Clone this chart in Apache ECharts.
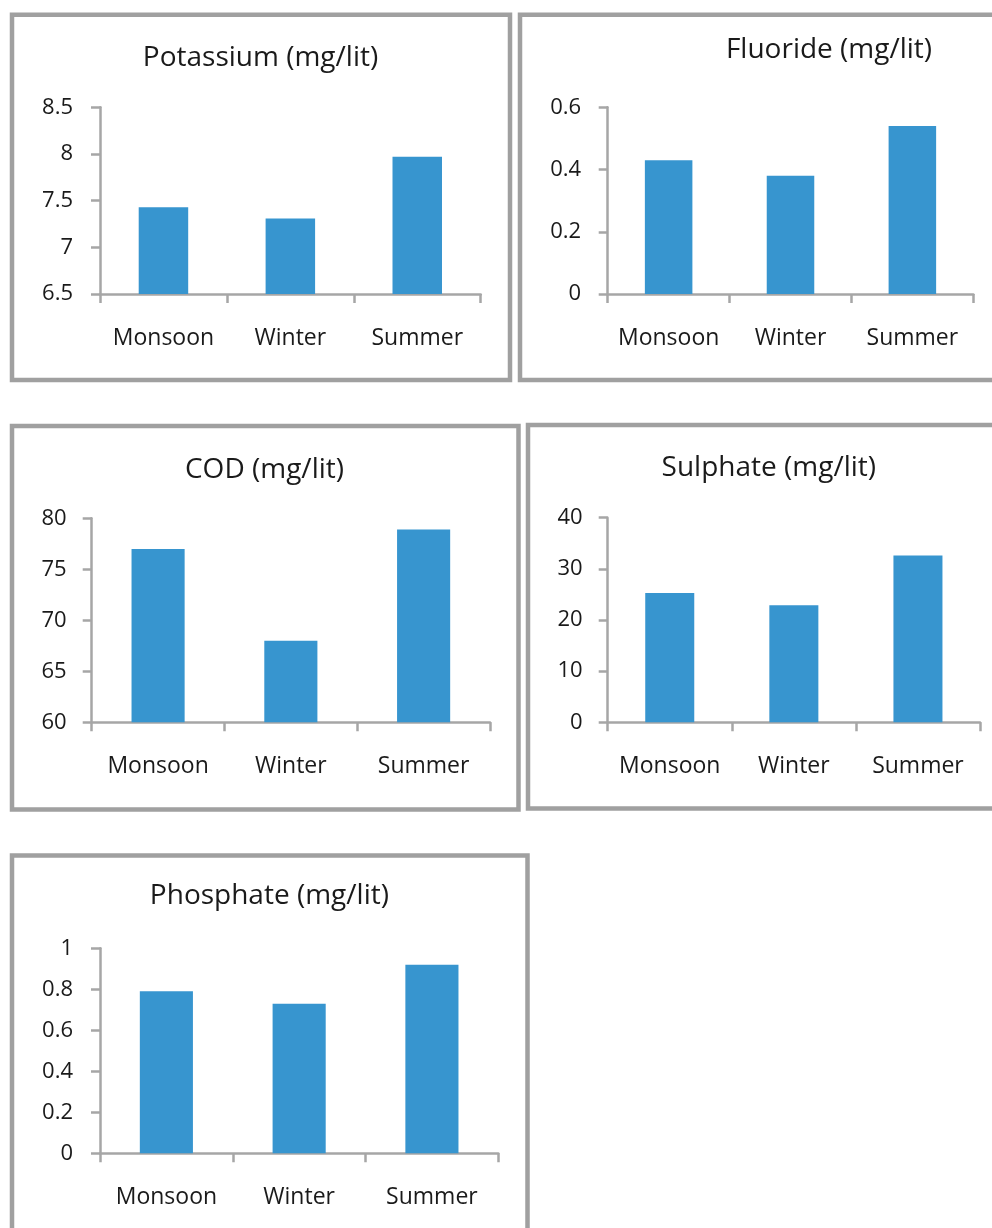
<!DOCTYPE html>
<html>
<head>
<meta charset="utf-8">
<script src="https://cdn.jsdelivr.net/npm/echarts@6/dist/echarts.min.js"></script>
<style>
  html, body { margin: 0; padding: 0; background: #ffffff; }
  #chart { width: 992px; height: 1228px; }
</style>
</head>
<body>
<div id="chart"></div>
<script>
// ---- data ----
const categories = ['Monsoon', 'Winter', 'Summer'];

const potassiumTitle = 'Potassium (mg/lit)';
const potassiumValues = [7.43, 7.31, 7.97];
const potassiumTicks = [6.5, 7, 7.5, 8, 8.5];

const fluorideTitle = 'Fluoride (mg/lit)';
const fluorideValues = [0.43, 0.38, 0.54];
const fluorideTicks = [0, 0.2, 0.4, 0.6];

const codTitle = 'COD (mg/lit)';
const codValues = [77.0, 68.0, 78.9];
const codTicks = [60, 65, 70, 75, 80];

const sulphateTitle = 'Sulphate (mg/lit)';
const sulphateValues = [25.3, 22.9, 32.6];
const sulphateTicks = [0, 10, 20, 30, 40];

const phosphateTitle = 'Phosphate (mg/lit)';
const phosphateValues = [0.79, 0.73, 0.92];
const phosphateTicks = [0, 0.2, 0.4, 0.6, 0.8, 1];

// ---- layout / style ----
const FONT = 'Open Sans';
const TEXT = '#1a1a1a';
const AXIS = '#a6a6a6';
const BAR = '#3795cf';
const BORDER = '#a0a0a0';

const panels = [
  { title: potassiumTitle, values: potassiumValues, ticks: potassiumTicks,
    grid: { left: 100, top: 107.3, width: 380.7, height: 186.7 }, yMargin: 27, barWidth: '39%',
    titlePos: [260.5, 58], border: [12, 14.8, 498, 365.2] },
  { title: fluorideTitle, values: fluorideValues, ticks: fluorideTicks,
    grid: { left: 607.7, top: 107.3, width: 365.6, height: 186.7 }, yMargin: 26.5, barWidth: '39%',
    titlePos: [829, 50], border: [520, 14.8, 520, 365.2] },
  { title: codTitle, values: codValues, ticks: codTicks,
    grid: { left: 91.7, top: 518.3, width: 398.3, height: 204 }, yMargin: 25, barWidth: '40%',
    titlePos: [264.5, 470], border: [12, 426, 506.5, 383.5] },
  { title: sulphateTitle, values: sulphateValues, ticks: sulphateTicks,
    grid: { left: 607.7, top: 517.7, width: 372.3, height: 204.6 }, yMargin: 25, barWidth: '39.5%',
    titlePos: [768.8, 468.5], border: [528, 425, 520, 383.5] },
  { title: phosphateTitle, values: phosphateValues, ticks: phosphateTicks,
    grid: { left: 100, top: 948.3, width: 398.3, height: 205 }, yMargin: 27, barWidth: '40%',
    titlePos: [269.4, 896], border: [12, 855.5, 515.5, 420] }
];

const chart = echarts.init(document.getElementById('chart'), null, { renderer: 'canvas' });

const option = {
  backgroundColor: '#ffffff',
  animation: false,
  title: panels.map(p => ({
    text: p.title,
    left: p.titlePos[0],
    top: p.titlePos[1],
    padding: 0,
    textAlign: 'center',
    textVerticalAlign: 'middle',
    textStyle: { fontFamily: FONT, fontSize: 28, fontWeight: 'normal', color: TEXT }
  })),
  grid: panels.map(p => Object.assign({ containLabel: false, outerBoundsMode: 'none' }, p.grid)),
  xAxis: panels.map((p, i) => ({
    type: 'category',
    gridIndex: i,
    data: categories,
    boundaryGap: true,
    axisLine: { show: true, lineStyle: { color: AXIS, width: 2.5 } },
    axisTick: { show: true, alignWithLabel: false, interval: 0, length: 9, inside: false, lineStyle: { color: AXIS, width: 2.5 } },
    axisLabel: { interval: 0, hideOverlap: false, margin: 33, fontFamily: FONT, fontSize: 23, color: TEXT },
    splitLine: { show: false }
  })),
  yAxis: panels.map((p, i) => ({
    type: 'value',
    gridIndex: i,
    min: p.ticks[0],
    max: p.ticks[p.ticks.length - 1],
    interval: p.ticks[1] - p.ticks[0],
    axisLine: { show: true, lineStyle: { color: AXIS, width: 2.5 } },
    axisTick: { show: true, length: 9, inside: false, lineStyle: { color: AXIS, width: 2.5 } },
    axisLabel: { margin: p.yMargin, fontFamily: FONT, fontSize: 22, color: TEXT },
    splitLine: { show: false }
  })),
  series: panels.map((p, i) => ({
    type: 'bar',
    name: p.title,
    xAxisIndex: i,
    yAxisIndex: i,
    data: p.values,
    barWidth: p.barWidth,
    itemStyle: { color: BAR },
    silent: true
  })),
  graphic: panels.map(p => ({
    type: 'rect',
    shape: { x: p.border[0], y: p.border[1], width: p.border[2], height: p.border[3] },
    style: { fill: 'none', stroke: BORDER, lineWidth: 4.5 },
    silent: true,
    z: -1
  }))
};

chart.setOption(option);
</script>
</body>
</html>
